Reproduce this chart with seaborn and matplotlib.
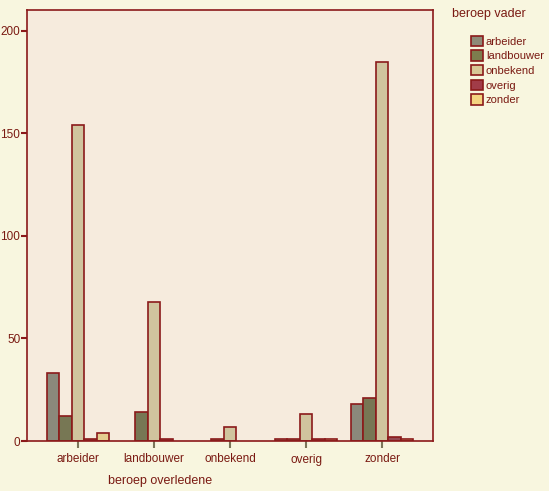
import matplotlib
matplotlib.use("Agg")
import matplotlib.pyplot as plt
import seaborn as sns
import pandas as pd
from matplotlib.patches import Patch

categories = ["arbeider", "landbouwer", "onbekend", "overig", "zonder"]
hue_levels = ["arbeider", "landbouwer", "onbekend", "overig", "zonder"]
v_arbeider = [33, 0, 0, 1, 18]
v_landbouwer = [12, 14, 1, 1, 21]
v_onbekend = [154, 68, 7, 13, 185]
v_overig = [1, 1, 0, 1, 2]
v_zonder = [4, 0, 0, 1, 1]
y_ticks = [0, 50, 100, 150, 200]

series = {"arbeider": v_arbeider, "landbouwer": v_landbouwer, "onbekend": v_onbekend,
          "overig": v_overig, "zonder": v_zonder}
rows = []
for h in hue_levels:
    for c, v in zip(categories, series[h]):
        rows.append({"beroep overledene": c, "beroep vader": h, "count": v})
df = pd.DataFrame(rows)

colors = ["#8E8B78", "#7D7D4E", "#D8C896", "#A13C48", "#F4D480"]
edge = "#8B1A1A"
text_c = "#7A1A12"
fig_bg = "#F8F6DF"
ax_bg = "#F6EBDD"

sns.set_theme(style="white")
plt.rcParams["font.family"] = ["Liberation Sans", "DejaVu Sans"]

fig = plt.figure(figsize=(5.49, 4.91), dpi=100)
fig.patch.set_facecolor(fig_bg)
ax = fig.add_axes([27/549, 50/491, 406/549, 431/491])
ax.set_facecolor(ax_bg)

sns.barplot(data=df, x="beroep overledene", y="count", hue="beroep vader",
            order=categories, hue_order=hue_levels, palette=colors,
            width=0.82, edgecolor=edge, linewidth=1.2, ax=ax, legend=False)

for p in ax.patches:
    if p.get_height() == 0:
        p.set_linewidth(0)

ax.set_xlim(-0.67, 4.67)
ax.set_ylim(0, 210.2)
ax.set_yticks(y_ticks)
ax.set_yticklabels([str(t) for t in y_ticks])
ax.set_xlabel("")
ax.set_ylabel("")
for s in ax.spines.values():
    s.set_color(edge)
    s.set_linewidth(1.2)
ax.tick_params(axis="y", colors=edge, length=4.5, width=1.5, labelsize=8.5, labelcolor=text_c, pad=0.3)
ax.tick_params(axis="x", colors="#7B7659", length=5, width=1.5, labelsize=8.5, labelcolor=text_c, pad=4)
ax.tick_params(left=True, bottom=True)

fig.text(108/549, 1 - 481/491, "beroep overledene", color=text_c, fontsize=9, va="center", ha="left")
fig.text(452/549, 1 - 14/491, "beroep vader", color=text_c, fontsize=9, va="center", ha="left")

handles = [Patch(facecolor=c, edgecolor=edge, linewidth=1.2) for c in colors]
leg = fig.legend(handles, hue_levels, loc="upper left",
                 bbox_to_anchor=(462/549, 1 - 27/491), frameon=False, fontsize=8,
                 handlelength=1.05, handleheight=1.05,
                 handletextpad=0.3, labelspacing=0.33, borderpad=0.3)
for t in leg.get_texts():
    t.set_color(text_c)

fig.savefig("out.png", dpi=100, facecolor=fig_bg)
